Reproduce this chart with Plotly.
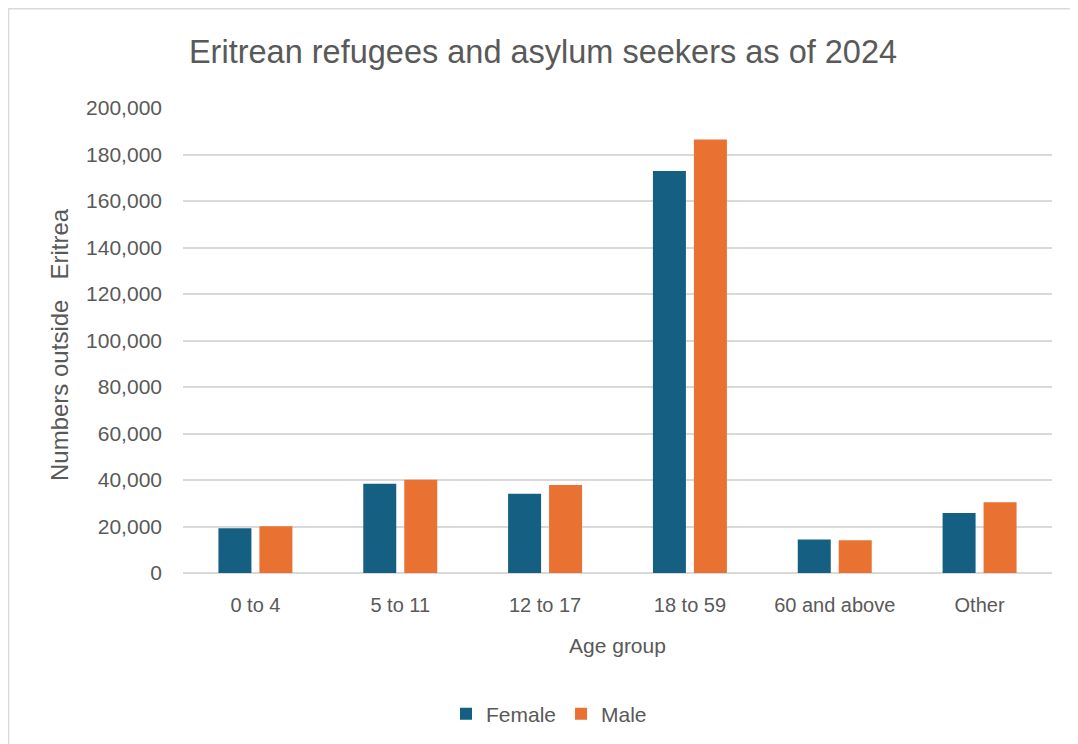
import plotly.graph_objects as go

categories = ["0 to 4", "5 to 11", "12 to 17", "18 to 59", "60 and above", "Other"]
female = [19300, 38400, 34100, 172900, 14400, 25800]
male = [20100, 40100, 37800, 186500, 14100, 30400]
y_ticks = list(range(0, 200001, 20000))

FONT = "Liberation Sans, Arial, sans-serif"
GREY = "#595959"

# page body margin offsets the figure by 8 px
O = 8
px_left, px_right, px_top, px_bot = 183 - O, 1052 - O, 108 - O, 573 - O
pw, ph = px_right - px_left, px_bot - px_top

fig = go.Figure()
fig.add_trace(go.Bar(name="Female", x=categories, y=female,
                     marker=dict(color="#156082", line=dict(width=0))))
fig.add_trace(go.Bar(name="Male", x=categories, y=male,
                     marker=dict(color="#E97132", line=dict(width=0))))


def px_x(x):
    return (x - O - px_left) / pw


def px_y(y):
    return (px_bot - (y - O)) / ph


fig.update_layout(
    width=1078, height=744,
    margin=dict(l=px_left, r=1078 - px_right, t=px_top, b=744 - px_bot, pad=0),
    paper_bgcolor="white", plot_bgcolor="white",
    barmode="group", bargap=0.434, bargroupgap=0.195,
    font=dict(family=FONT, color=GREY, size=20),
    title=dict(text="Eritrean refugees and asylum seekers as of 2024",
               x=(543 - O) / 1078, xanchor="center", y=1 - (52 - O) / 744, yanchor="middle",
               font=dict(family=FONT, size=32.5, color=GREY)),
    showlegend=True,
    legend=dict(orientation="h", x=px_x(549), xanchor="center",
                y=px_y(714), yanchor="middle",
                font=dict(family=FONT, size=21, color=GREY)),
    xaxis=dict(showgrid=False, showline=False, ticks="", zeroline=False,
               tickfont=dict(family=FONT, size=20, color=GREY),
               ticklabelstandoff=18),
    yaxis=dict(range=[0, 200000], tickvals=y_ticks, tickformat=",",
               showgrid=True, gridcolor="#d9d9d9", gridwidth=1.5,
               zeroline=True, zerolinecolor="#d9d9d9", zerolinewidth=1.5,
               showline=False, ticks="",
               tickfont=dict(family=FONT, size=21, color=GREY),
               ticklabelstandoff=20),
    annotations=[
        dict(text="Age group", xref="paper", yref="paper",
             x=0.5, y=px_y(645), xanchor="center", yanchor="middle",
             showarrow=False, font=dict(family=FONT, size=21, color=GREY)),
        dict(text="Numbers outside\u00a0\u00a0\u00a0Eritrea", xref="paper", yref="paper",
             x=px_x(59), y=px_y(345), xanchor="center", yanchor="middle",
             textangle=-90, showarrow=False,
             font=dict(family=FONT, size=24, color=GREY)),
    ],
    shapes=[dict(type="rect", xref="paper", yref="paper",
                 x0=px_x(8.5), x1=px_x(1100),
                 y0=-0.6, y1=px_y(8.7),
                 line=dict(color="#d9d9d9", width=1.5), layer="below")],
)

fig.write_html("out.html")
